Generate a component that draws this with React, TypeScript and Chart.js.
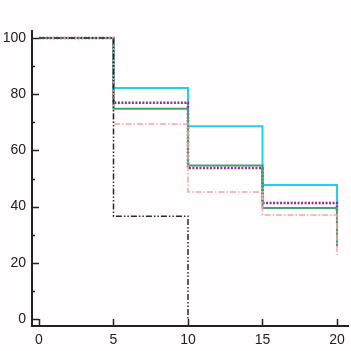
import React, { useEffect, useRef } from "react";
import { Chart, registerables } from "chart.js";

Chart.register(...registerables);

const xTicks = [0, 5, 10, 15, 20];
const yTicks = [0, 20, 40, 60, 80, 100];
const yMinorTicks = [10, 30, 50, 70, 90];

const times = [0, 5, 10, 15, 20];
const cyanValues = [100, 82.2, 68.6, 47.7, 40];
const greenValues = [100, 74.8, 54.6, 39.5, 26];
const purpleValues = [100, 77.0, 53.7, 41.3, 38];
const pinkValues = [100, 69.4, 45.2, 37.0, 22.8];
const blackTimes = [0, 5, 10];
const blackValues = [100, 36.6, 0];

const toPts = (xs: number[], ys: number[]) => xs.map((x, i) => ({ x, y: ys[i] }));

const tickPlugin = {
  id: "innerTicks",
  afterDraw(chart: any) {
    const ctx = chart.ctx;
    const xs = chart.scales.x;
    const ys = chart.scales.y;
    const area = chart.chartArea;
    ctx.save();
    ctx.strokeStyle = "#222";
    ctx.lineWidth = 1.5;
    ctx.beginPath();
    xTicks.forEach((v) => {
      const px = Math.round(xs.getPixelForValue(v)) + 0.5;
      ctx.moveTo(px, area.bottom);
      ctx.lineTo(px, area.bottom - 7);
    });
    yTicks.forEach((v) => {
      const py = Math.round(ys.getPixelForValue(v)) + 0.5;
      ctx.moveTo(area.left, py);
      ctx.lineTo(area.left + 7, py);
    });
    yMinorTicks.forEach((v) => {
      const py = Math.round(ys.getPixelForValue(v)) + 0.5;
      ctx.moveTo(area.left, py);
      ctx.lineTo(area.left + 3, py);
    });
    ctx.stroke();
    ctx.restore();
  },
};

export default function App() {
  const ref = useRef<HTMLCanvasElement>(null);
  useEffect(() => {
    document.body.style.margin = "0";
    document.body.style.background = "#fffdfd";
    const chart = new Chart(ref.current!, {
      type: "line",
      data: {
        datasets: [
          {
            data: toPts(blackTimes, blackValues),
            borderColor: "#2a2a2a",
            borderWidth: 1.5,
            borderDash: [6, 2, 1.5, 2, 1.5, 2],
            stepped: "before",
            pointRadius: 0,
          },
          {
            data: toPts(times, pinkValues),
            borderColor: "#f5a3a3",
            borderWidth: 1.5,
            borderDash: [6, 2, 1.5, 2],
            stepped: "before",
            pointRadius: 0,
          },
          {
            data: toPts(times, greenValues),
            borderColor: "#4a9f72",
            borderWidth: 2,
            stepped: "before",
            pointRadius: 0,
          },
          {
            data: toPts(times, purpleValues),
            borderColor: "#8e2f98",
            borderWidth: 2.5,
            borderDash: [2, 1.5],
            stepped: "before",
            pointRadius: 0,
          },
          {
            data: toPts(times, cyanValues),
            borderColor: "#25cdf2",
            borderWidth: 2,
            stepped: "before",
            pointRadius: 0,
          },
        ],
      },
      plugins: [tickPlugin],
      options: {
        animation: false,
        responsive: false,
        maintainAspectRatio: false,
        layout: { padding: { left: 0, top: 31, right: 3, bottom: 0 } },
        plugins: { legend: { display: false }, tooltip: { enabled: false } },
        scales: {
          x: {
            type: "linear",
            min: -0.47,
            max: 20.74,
            afterBuildTicks: (s: any) => {
              s.ticks = xTicks.map((v) => ({ value: v }));
            },
            afterFit: (s: any) => {
              s.height = 25;
            },
            grid: { display: false, drawTicks: false },
            border: { display: true, color: "#222", width: 2 },
            ticks: {
              padding: 6,
              maxRotation: 0,
              color: "#222",
              font: { family: "Liberation Sans, Arial, sans-serif", size: 14 },
            },
          },
          y: {
            type: "linear",
            min: -2.5,
            max: 102.5,
            afterBuildTicks: (s: any) => {
              s.ticks = yTicks.map((v) => ({ value: v }));
            },
            afterFit: (s: any) => {
              s.width = 32;
            },
            grid: { display: false, drawTicks: false },
            border: { display: true, color: "#222", width: 2 },
            ticks: {
              padding: 6,
              color: "#222",
              font: { family: "Liberation Sans, Arial, sans-serif", size: 14 },
            },
          },
        },
      },
    });
    return () => chart.destroy();
  }, []);
  return (
    <canvas
      ref={ref}
      width={351}
      height={351}
      style={{ display: "block", width: 351, height: 351 }}
    />
  );
}
